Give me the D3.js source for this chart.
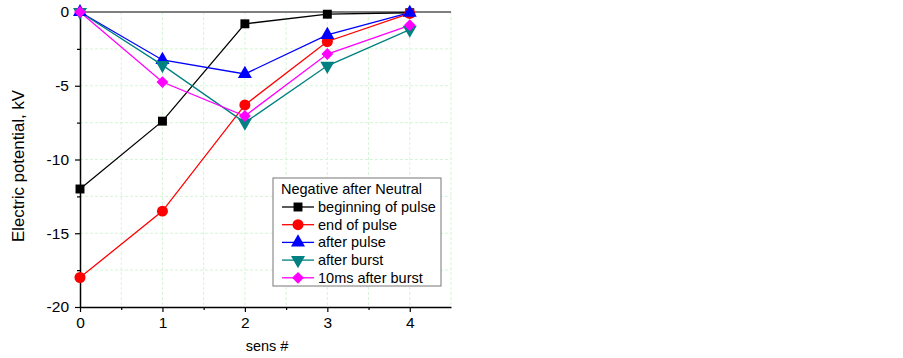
<!DOCTYPE html>
<html>
<head>
<meta charset="utf-8">
<script src="https://cdn.jsdelivr.net/npm/d3@7"></script>
<style>
  body { margin: 0; background: #fff; }
  text { font-family: "Liberation Sans", Arial, sans-serif; }
</style>
</head>
<body>
<svg id="chart" width="903" height="358"></svg>
<script>
const sensors = [0, 1, 2, 3, 4];
const beginningOfPulse = [-12, -7.4, -0.8, -0.15, -0.05];
const endOfPulse = [-18, -13.5, -6.3, -2.0, -0.1];
const afterPulse = [0, -3.25, -4.2, -1.55, -0.05];
const afterBurst = [0, -3.6, -7.5, -3.65, -1.2];
const tenMsAfterBurst = [0, -4.75, -7.05, -2.85, -0.9];
const xTicks = [0, 1, 2, 3, 4];
const yTicks = [0, -5, -10, -15, -20];
const legendTitle = "Negative after Neutral";

const series = [
  { name: "beginning of pulse", values: beginningOfPulse, color: "#000000", symbol: d3.symbolSquare, size: 80, rot: 0 },
  { name: "end of pulse", values: endOfPulse, color: "#ff0000", symbol: d3.symbolCircle, size: 95, rot: 0 },
  { name: "after pulse", values: afterPulse, color: "#0000ff", symbol: d3.symbolTriangle, size: 85, rot: 0 },
  { name: "after burst", values: afterBurst, color: "#008080", symbol: d3.symbolTriangle, size: 85, rot: 180 },
  { name: "10ms after burst", values: tenMsAfterBurst, color: "#ff00ff", symbol: d3.symbolSquare, size: 70, rot: 45 }
];

const MARGIN = { left: 80, right: 451, top: 12, bottom: 307 };
const svg = d3.select("#chart");

const x = d3.scaleLinear().domain([0, 4.5]).range([MARGIN.left, MARGIN.right]);
const y = d3.scaleLinear().domain([-20, 0]).range([MARGIN.bottom, MARGIN.top]);
const fmt = d => String(d); // plain hyphen minus like the original

// grid (major + minor)
const gridX = d3.range(0.5, 4.51, 0.5);
const gridY = d3.range(-17.5, -0.1, 2.5);
const grid = svg.append("g");
grid.selectAll(".gx").data(gridX).join("line")
  .attr("x1", d => x(d)).attr("x2", d => x(d))
  .attr("y1", MARGIN.top).attr("y2", MARGIN.bottom)
  .attr("stroke", "#d6f5d6").attr("stroke-dasharray", "3,2");
grid.selectAll(".gy").data(gridY).join("line")
  .attr("x1", MARGIN.left).attr("x2", MARGIN.right)
  .attr("y1", d => y(d)).attr("y2", d => y(d))
  .attr("stroke", "#d6f5d6").attr("stroke-dasharray", "3,2");

// top line
svg.append("line")
  .attr("x1", MARGIN.left).attr("x2", MARGIN.right)
  .attr("y1", MARGIN.top).attr("y2", MARGIN.top)
  .attr("stroke", "#555").attr("stroke-width", 1.5);

// axes
svg.append("g")
  .attr("transform", `translate(0, ${MARGIN.bottom})`)
  .call(d3.axisBottom(x).tickValues(xTicks).tickFormat(fmt).tickSize(5).tickSizeOuter(0).tickPadding(5));
const xMinor = svg.append("g")
  .attr("transform", `translate(0, ${MARGIN.bottom})`)
  .call(d3.axisBottom(x).tickValues([0.5, 1.5, 2.5, 3.5]).tickFormat("").tickSize(3).tickSizeOuter(0));
xMinor.select(".domain").remove();

svg.append("g")
  .attr("transform", `translate(${MARGIN.left}, 0)`)
  .call(d3.axisLeft(y).tickValues(yTicks).tickFormat(fmt).tickSize(5).tickSizeOuter(0).tickPadding(6));
const yMinor = svg.append("g")
  .attr("transform", `translate(${MARGIN.left}, 0)`)
  .call(d3.axisLeft(y).tickValues([-2.5, -7.5, -12.5, -17.5]).tickFormat("").tickSize(3).tickSizeOuter(0));
yMinor.select(".domain").remove();

svg.selectAll(".domain").attr("stroke", "#000").attr("stroke-width", 1.5);
svg.selectAll(".tick line").attr("stroke", "#000").attr("stroke-width", 1.2);
svg.selectAll(".tick text").attr("font-size", 15.5).attr("fill", "#000")
  .style("font-family", "Liberation Sans, Arial, sans-serif");

svg.append("text")
  .attr("x", 267).attr("y", 351)
  .attr("text-anchor", "middle").attr("font-size", 14.5)
  .text("sens #");

svg.append("text")
  .attr("transform", `translate(24, 166) rotate(-90)`)
  .attr("text-anchor", "middle").attr("font-size", 16.8)
  .text("Electric potential, kV");

// lines and markers
const line = d3.line().x((d, i) => x(sensors[i])).y(d => y(d));
const plot = svg.append("g");
series.forEach(s => {
  plot.append("path")
    .attr("d", line(s.values))
    .attr("fill", "none")
    .attr("stroke", s.color)
    .attr("stroke-width", 1.3);
});
series.forEach(s => {
  plot.selectAll(null).data(s.values).join("path")
    .attr("d", d3.symbol().type(s.symbol).size(s.size))
    .attr("transform", (d, i) => `translate(${x(sensors[i])}, ${y(d)}) rotate(${s.rot})`)
    .attr("fill", s.color);
});

// legend
const legend = svg.append("g").attr("transform", "translate(273, 178)");
legend.append("rect")
  .attr("width", 168).attr("height", 108)
  .attr("fill", "#fff").attr("stroke", "#777").attr("stroke-width", 1);
legend.append("text")
  .attr("x", 8).attr("y", 16)
  .attr("font-size", 14.5)
  .text(legendTitle);
const entries = legend.selectAll(".entry").data(series).join("g")
  .attr("transform", (d, i) => `translate(0, ${29 + i * 17.7})`);
entries.append("line")
  .attr("x1", 9).attr("x2", 41)
  .attr("stroke", d => d.color).attr("stroke-width", 1.3);
entries.append("path")
  .attr("d", d => d3.symbol().type(d.symbol).size(d.size)())
  .attr("transform", d => `translate(25, 0) rotate(${d.rot})`)
  .attr("fill", d => d.color);
entries.append("text")
  .attr("x", 45).attr("y", 5)
  .attr("font-size", 14.5)
  .text(d => d.name);
</script>
</body>
</html>
